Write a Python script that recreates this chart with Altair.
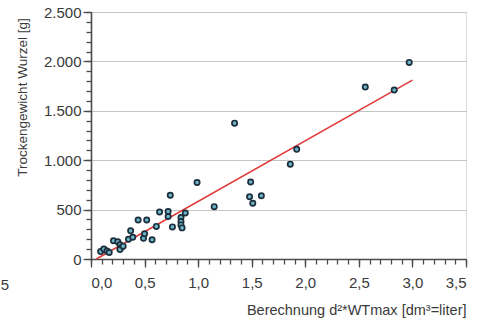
import altair as alt
import pandas as pd

# Measured points: x = d²*WTmax [dm³], y = Trockengewicht Wurzel [g]
calc_x = [0.09, 0.12, 0.15, 0.17, 0.21, 0.25, 0.27, 0.28, 0.27, 0.30,
          0.35, 0.37, 0.39, 0.44, 0.49, 0.50, 0.52, 0.57, 0.61, 0.64,
          0.72, 0.72, 0.74, 0.76, 0.84, 0.84, 0.84, 0.85, 0.88, 0.99,
          1.15, 1.34, 1.48, 1.49, 1.51, 1.59, 1.86, 1.92, 2.56, 2.83, 2.97]
weight_y = [75, 100, 80, 65, 185, 175, 145, 115, 95, 130,
            200, 285, 220, 395, 210, 255, 395, 195, 330, 475,
            480, 430, 645, 325, 420, 380, 345, 315, 465, 775,
            530, 1375, 630, 780, 565, 640, 960, 1110, 1740, 1710, 1990]

# Regression line end points
line_x = [0.05, 3.0]
line_y = [0, 1810]

x_major = [0, 0.5, 1.0, 1.5, 2.0, 2.5, 3.0, 3.5]
x_minor = [round(i * 0.1, 1) for i in range(36)]
y_major = [0, 500, 1000, 1500, 2000, 2500]
y_minor = list(range(0, 2501, 100))

pts = pd.DataFrame({"x": calc_x, "y": weight_y})
reg = pd.DataFrame({"x": line_x, "y": line_y})

FONT = "Liberation Sans"
LBL = 15
xs = alt.Scale(domain=[0, 3.5], nice=False, zero=False)
ys = alt.Scale(domain=[0, 2500], nice=False, zero=False)

ax_common = dict(domainColor="#4a4a4a", domainWidth=1.6, tickColor="#4a4a4a",
                 tickWidth=1.3, labelFont=FONT, labelFontSize=LBL, labelColor="#3a3a3a",
                 titleFont=FONT, titleColor="#3a3a3a", titleFontWeight="normal")

x_axis_major = alt.Axis(orient="bottom", values=x_major, tickSize=8, grid=False,
                        labelExpr="replace(format(datum.value, '.1f'), '.', ',')",
                        labelPadding=8,
                        title="Berechnung d²*WTmax [dm³=liter]", titleFontSize=14.5,
                        titleAnchor="end", titleAlign="right", titleX=375, titleY=51,
                        titleBaseline="middle", **ax_common)
y_axis_major = alt.Axis(orient="left", values=y_major, tickSize=8, grid=True, gridColor="#c4c4c4",
                        gridWidth=1,
                        labelExpr="replace(format(datum.value, ',d'), ',', '.')",
                        labelPadding=2,
                        title="Trockengewicht Wurzel [g]", titleFontSize=13.5,
                        titleX=-69, titleY=85, titleAngle=-90, titleAlign="center",
                        titleBaseline="middle", **ax_common)

x_axis_minor = alt.Axis(orient="bottom", values=x_minor, tickSize=5, grid=False, labels=False,
                        title=None, domain=False, tickColor="#4a4a4a", tickWidth=1.3)
y_axis_minor = alt.Axis(orient="left", values=y_minor, tickSize=5, grid=False, labels=False,
                        title=None, domain=False, tickColor="#4a4a4a", tickWidth=1.3)

minor = alt.Chart(reg).mark_point(opacity=0).encode(
    x=alt.X("x:Q", scale=xs, axis=x_axis_minor),
    y=alt.Y("y:Q", scale=ys, axis=y_axis_minor),
)

line = alt.Chart(reg).mark_line(color="#e03a3a", strokeWidth=1.6).encode(
    x=alt.X("x:Q", scale=xs, axis=x_axis_major),
    y=alt.Y("y:Q", scale=ys, axis=y_axis_major),
)

points = alt.Chart(pts).mark_point(filled=False, shape="circle", size=28,
                                   stroke="#1c2e3c", strokeWidth=1.7,
                                   fill="#6db6c8", fillOpacity=1, opacity=1).encode(
    x=alt.X("x:Q", scale=xs, axis=None),
    y=alt.Y("y:Q", scale=ys, axis=None),
)

stray = alt.Chart(pd.DataFrame({"t": ["5"]})).mark_text(
    font=FONT, fontSize=LBL, color="#3a3a3a", align="right", baseline="middle"
).encode(x=alt.value(-82), y=alt.value(285 - 12), text="t:N")

chart = alt.layer(minor, line, points, stray).resolve_axis(
    x="independent", y="independent"
).properties(
    width=375, height=247,
    autosize=alt.AutoSizeParams(type="none"),
    padding={"left": 91, "top": 12, "right": 16, "bottom": 63},
).configure_view(stroke="#555", strokeWidth=1.6).configure(background="white")

chart.save("out.html", embed_options={"renderer": "svg", "actions": False})
